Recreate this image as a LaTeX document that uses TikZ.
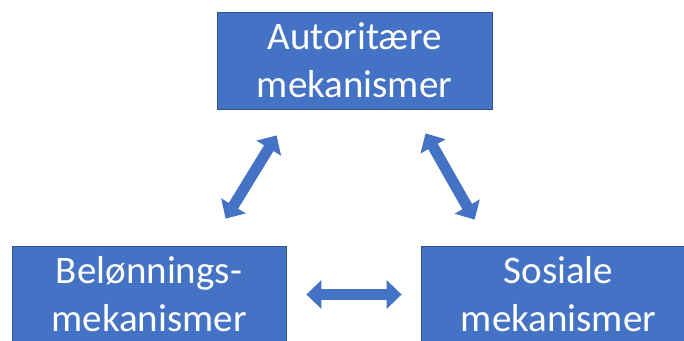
\documentclass[tikz,border=0pt]{standalone}
\usepackage{fontspec}
\setmainfont{Carlito}
\usetikzlibrary{arrows.meta,calc}
\definecolor{boxblue}{HTML}{4472C4}
\definecolor{boxedge}{HTML}{2F528F}
\begin{document}
\begin{tikzpicture}[x=1pt,y=-1pt,
  mbox/.style={rectangle, fill=boxblue, draw=boxedge, line width=0.8pt,
    minimum width=275pt, minimum height=97pt, inner sep=0pt, text=white,
    align=center, font=\fontsize{39}{48}\selectfont},
  barrow/.style={draw=boxblue, line width=11pt,
    {Triangle[width=28pt,length=15pt]}-{Triangle[width=28pt,length=15pt]}}]
\useasboundingbox (0,0) rectangle (684,340);
\clip (0,0) rectangle (684,340);
\node[mbox] (aut) at (354.5,60.5) {Autoritære\\mekanismer};
\node[mbox, minimum width=274pt] (bel) at (149,294.5) {Belønnings-\\mekanismer};
\node[mbox] (sos) at (558.5,294.5) {Sosiale\\mekanismer};
\coordinate (l1) at ($(bel.north west)+(214,-27)$);
\coordinate (l2) at ($(aut.south west)+(60,26)$);
\coordinate (r1) at ($(aut.south west)+(209,24)$);
\coordinate (r2) at ($(sos.north west)+(54,-26)$);
\coordinate (h1) at ($(bel.east)+(20,0)$);
\coordinate (h2) at ($(sos.west)+(-19,0)$);
\draw[barrow] (l1) -- (l2);
\draw[barrow] (r1) -- (r2);
\draw[barrow] (h1) -- (h2);
\end{tikzpicture}
\end{document}
